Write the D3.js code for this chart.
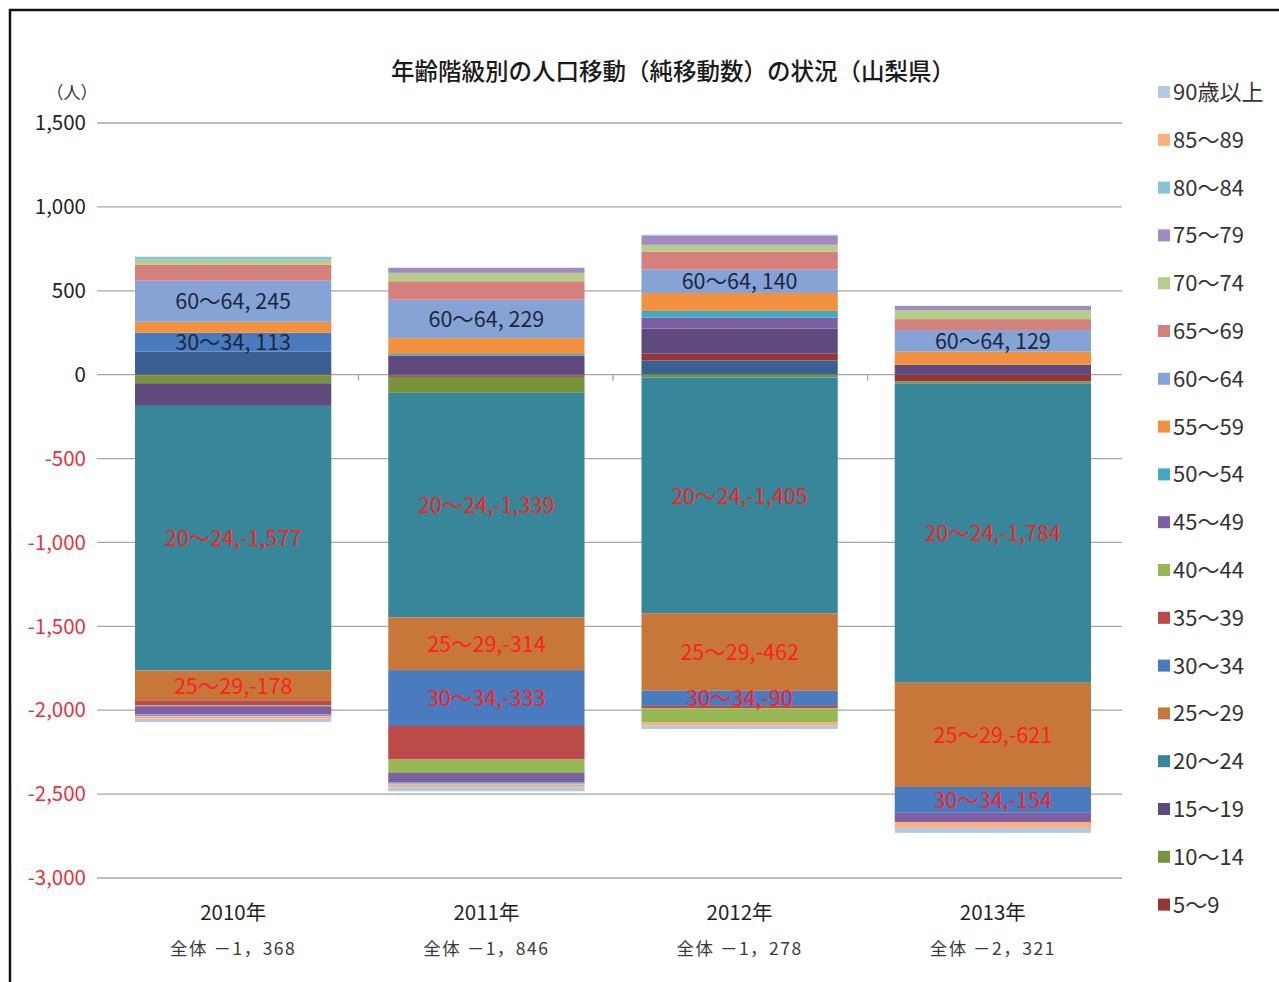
<!DOCTYPE html>
<html>
<head>
<meta charset="utf-8">
<script src="https://cdn.jsdelivr.net/npm/d3@7/dist/d3.min.js"></script>
<style>
  html, body { margin: 0; padding: 0; background: #fff; }
  svg { display: block; }
  text { font-family: "Noto Sans CJK JP", "Noto Sans", sans-serif; }
</style>
</head>
<body>
<svg id="chart" width="1279" height="982"></svg>
<script>
// Net migration by age group, Yamanashi Prefecture
const years = ["2010年", "2011年", "2012年", "2013年"];
const totals = [-1368, -1846, -1278, -2321];
const ageGroups = ["0～4", "5～9", "10～14", "15～19", "20～24", "25～29", "30～34",
  "35～39", "40～44", "45～49", "50～54", "55～59", "60～64", "65～69", "70～74",
  "75～79", "80～84", "85～89", "90歳以上"];
const net2010 = [137, -3, -48, -135, -1577, -178, 113, -30, -5, -48, 0, 65, 245, 95, 30, -12, 18, -15, -20];
const net2011 = [-5, -8, -95, 113, -1339, -314, -333, -200, -80, -58, 10, 95, 229, 110, 50, 30, -12, -15, -24];
const net2012 = [85, 40, -17, 150, -1405, -462, -90, -15, -85, 65, 40, 107, 140, 107, 40, 55, 5, -18, -20];
const net2013 = [0, -40, -12, 60, -1784, -621, -154, 0, 0, -55, 0, 77, 129, 65, 54, 25, 0, -35, -30];
const yTicks = [1500, 1000, 500, 0, -500, -1000, -1500, -2000, -2500, -3000];
const labelledGroups = ["20～24", "25～29", "30～34", "60～64"];

const palette = ["#3a5f91", "#943634", "#77933c", "#5f4a7e", "#37869a", "#c8773a", "#4a7bbf",
  "#bb4a48", "#96b955", "#7d5fa3", "#42a8c4", "#f2913f", "#85a4d5", "#d6807e", "#b7cd8c",
  "#a08cc2", "#86c4da", "#f8b07f", "#b7c9e2"];

const yearValues = [net2010, net2011, net2012, net2013];
const rows = years.map((yr, i) => {
  const row = { year: yr };
  ageGroups.forEach((g, j) => { row[g] = yearValues[i][j]; });
  return row;
});

const svg = d3.select("#chart");

// outer frame
svg.append("rect").attr("x", 10).attr("y", 10).attr("width", 1300).attr("height", 1000)
  .attr("fill", "none").attr("stroke", "#111").attr("stroke-width", 2.5);

const plot = { left: 104, right: 1122, top: 123, bottom: 878 };

const x = d3.scaleBand().domain(years).range([plot.left, plot.right])
  .paddingInner(0.225).paddingOuter(0.1225);
const y = d3.scaleLinear().domain([-3000, 1500]).range([plot.bottom, plot.top]);
const color = d3.scaleOrdinal().domain(ageGroups).range(palette);

// number format with a plain hyphen for negatives
const locale = d3.formatLocale({ decimal: ".", thousands: ",", grouping: [3], currency: ["", ""], minus: "-" });
const fmt = locale.format(",");

// gridlines
svg.append("g").selectAll("line").data(yTicks).join("line")
  .attr("x1", plot.left - 7).attr("x2", plot.right)
  .attr("y1", d => y(d)).attr("y2", d => y(d))
  .attr("stroke", "#a6a6a6").attr("stroke-width", 1.3);

// y tick labels
svg.append("g").selectAll("text").data(yTicks).join("text")
  .attr("x", 86).attr("y", d => y(d)).attr("dy", "0.35em")
  .attr("text-anchor", "end").attr("font-size", 20.5)
  .attr("fill", d => d < 0 ? "#e8323c" : "#222")
  .text(d => fmt(d));

svg.append("text").attr("x", 72).attr("y", 99).attr("text-anchor", "middle")
  .attr("font-size", 17).attr("fill", "#333").text("（人）");

// stacked columns
const stack = d3.stack().keys(ageGroups).offset(d3.stackOffsetDiverging);
const series = stack(rows);

const layers = svg.append("g").selectAll("g").data(series).join("g")
  .attr("fill", d => color(d.key));
layers.selectAll("rect").data(d => d.map(p => ({ key: d.key, p }))).join("rect")
  .attr("x", d => x(d.p.data.year))
  .attr("width", x.bandwidth())
  .attr("y", d => y(Math.max(d.p[0], d.p[1])))
  .attr("height", d => Math.abs(y(d.p[0]) - y(d.p[1])));

// category tick marks on the zero line
const bounds = d3.range(1, years.length).map(i => plot.left + i * (plot.right - plot.left) / years.length);
svg.append("g").selectAll("line").data(bounds).join("line")
  .attr("x1", d => d).attr("x2", d => d)
  .attr("y1", y(0)).attr("y2", y(0) + 6)
  .attr("stroke", "#a6a6a6").attr("stroke-width", 1.3);

// data labels
const labelData = [];
series.filter(s => labelledGroups.includes(s.key)).forEach(s => {
  s.forEach(p => {
    const v = p.data[s.key];
    labelData.push({ key: s.key, year: p.data.year, v, mid: (p[0] + p[1]) / 2 });
  });
});
svg.append("g").selectAll("text").data(labelData).join("text")
  .attr("x", d => x(d.year) + x.bandwidth() / 2)
  .attr("y", d => y(d.mid)).attr("dy", "0.38em")
  .attr("text-anchor", "middle").attr("font-size", 21.5)
  .attr("fill", d => d.v < 0 ? "#ff1f1f" : "#1c2842")
  .text(d => d.v < 0 ? `${d.key},${fmt(d.v)}` : `${d.key}, ${fmt(d.v)}`);

// category labels
svg.append("g").selectAll("text").data(years).join("text")
  .attr("x", d => x(d) + x.bandwidth() / 2).attr("y", 920)
  .attr("text-anchor", "middle").attr("font-size", 20.5).attr("fill", "#222")
  .text(d => d);
svg.append("g").selectAll("text").data(totals).join("text")
  .attr("x", (d, i) => x(years[i]) + x.bandwidth() / 2).attr("y", 955)
  .attr("text-anchor", "middle").attr("font-size", 17.5).attr("letter-spacing", 1.5)
  .attr("fill", "#3a3a3a")
  .text(d => "全体 " + (d < 0 ? "－" : "") + fmt(Math.abs(d)).replace(",", "，"));

// title
svg.append("text").attr("x", 673).attr("y", 80).attr("text-anchor", "middle")
  .attr("font-size", 23.5).attr("font-weight", 500).attr("fill", "#1a1a1a")
  .text("年齢階級別の人口移動（純移動数）の状況（山梨県）");

// legend
const legendKeys = ageGroups.slice(1).reverse();
const legend = svg.append("g").selectAll("g").data(legendKeys).join("g")
  .attr("transform", (d, i) => `translate(1158, ${92 + i * 47.8})`);
legend.append("rect").attr("x", 0).attr("y", -6).attr("width", 12).attr("height", 12)
  .attr("fill", d => color(d));
legend.append("text").attr("x", 15).attr("dy", "0.36em").attr("font-size", 22)
  .attr("fill", "#333").text(d => d);
</script>
</body>
</html>
